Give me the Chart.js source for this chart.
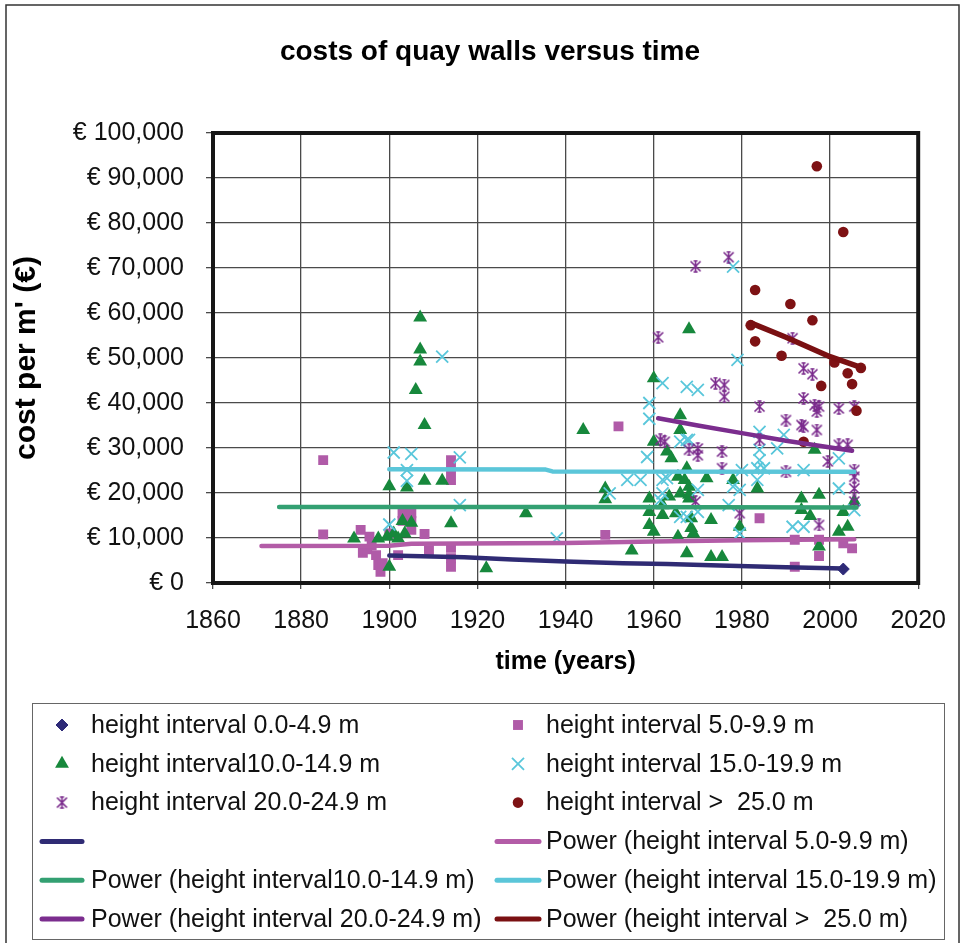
<!DOCTYPE html>
<html>
<head>
<meta charset="utf-8">
<title>costs of quay walls versus time</title>
<script src="https://cdn.jsdelivr.net/npm/chart.js@4.4.1/dist/chart.umd.min.js"></script>
<style>
  html, body { margin: 0; padding: 0; background: #fff; }
  canvas { display: block; }
</style>
</head>
<body>
<canvas id="chart-quay" width="963" height="943"></canvas>
<script>
// ── Data: [year of construction, cost per m' in €]
const h0 = [[2003, 3100]];
const h5 = [
  [1885, 27300], [1885, 10800], [1893.5, 11800], [1894, 6700], [1895, 7500], [1895.5, 10300],
  [1896, 8400], [1897, 6200], [1897.5, 4000], [1898, 2500], [1898.5, 4400], [1900, 11000],
  [1902, 6200], [1903, 15500], [1905, 15500], [1903, 13800], [1905, 13800], [1905, 11800],
  [1908, 10900], [1909, 7300], [1914, 27300], [1914, 25100], [1914, 22900], [1914, 7800],
  [1914, 5500], [1914, 3600], [1952, 34800], [1949, 10700], [1984, 14400], [1992, 9600],
  [1992, 3600], [1997.5, 9600], [1997.5, 6000], [2003, 8800], [2005, 7700]
];
const h10 = [
  [1892, 9900], [1897.5, 9900], [1899.5, 10300], [1901, 11000], [1902, 9900], [1903.5, 11000],
  [1900, 3600], [1903, 13800], [1905, 13400], [1914, 13300], [1900, 21500], [1904, 21200],
  [1908, 22700], [1912, 22700], [1907, 59000], [1907, 51900], [1907, 49200], [1906, 42900],
  [1908, 35100], [1922, 3300], [1931, 15500], [1944, 34000], [1949, 21000], [1949, 18600],
  [1955, 7200], [1960, 45500], [1968, 56400], [1960, 31400], [1963, 29200], [1964, 27700],
  [1966, 37300], [1966, 34000], [1965.5, 23600], [1966, 19900], [1965.5, 10300], [1967.5, 6600],
  [1967, 22900], [1967.5, 25500], [1968, 21400], [1968, 19600], [1968, 18800], [1968.5, 14400],
  [1968.5, 12200], [1969, 11000], [1959, 18800], [1959, 15800], [1959, 12900], [1960, 11400],
  [1962, 15100], [1962, 17300], [1965, 15500], [1963.5, 19200], [1972, 23300], [1973, 14000],
  [1973, 5800], [1975.5, 5800], [1978, 22900], [1979.5, 12500], [1983.5, 21000], [1993.5, 18800],
  [1993.5, 16200], [1995.5, 14900], [1996.5, 29600], [1997.5, 19600], [1997.5, 8100], [2002, 11400],
  [2003, 15800], [2004, 12500], [2005.5, 18100]
];
const h15 = [
  [1912, 50300], [1901, 29000], [1905, 28700], [1916, 27900], [1904, 25100], [1904, 22700],
  [1916, 17300], [1900, 13000], [1938, 9900], [1950, 19900], [1954, 22900], [1957, 22900],
  [1959, 40000], [1959, 36500], [1958.5, 28000], [1962, 44400], [1967.5, 43600], [1970, 42900],
  [1966, 31400], [1967.5, 31800], [1968, 31800], [1962, 22900], [1963, 23300], [1962, 19900],
  [1961.5, 18400], [1966, 14700], [1967.5, 14700], [1970, 15800], [1970, 20700], [1978, 21400],
  [1979.5, 20700], [1977, 17300], [1979.5, 11000], [1980, 25100], [1984, 33600], [1984, 29600],
  [1984, 27300], [1983.5, 25500], [1985, 25500], [1983.5, 22900], [1988, 29900], [1989.5, 32900],
  [1994, 25100], [1991.5, 12500], [1994, 12500], [2002, 21000], [2002, 27700], [2005.5, 16200],
  [1978, 70300], [1979, 49600]
];
const h20 = [
  [1969.5, 70400], [1977, 72400], [1961, 54600], [1991.5, 54400], [1994, 47700], [1996, 46400],
  [1974, 44400], [1976, 44000], [1976, 41400], [1984, 39200], [1994, 41000], [1996.5, 39500],
  [1997.5, 39200], [1997, 38100], [2002, 38800], [2005.5, 39200], [1990, 36200], [1993.5, 35100],
  [1994, 34700], [1997, 34000], [1961.5, 31800], [1962.5, 31400], [1968, 29600], [1970, 29900],
  [1970, 28400], [1975.5, 29200], [1975.5, 25500], [1984, 31800], [1990, 24700], [1999.5, 27000],
  [2002, 30700], [2004, 30700], [2005.5, 25100], [2005.5, 23600], [2005.5, 21000], [2005.5, 18100],
  [1979.5, 15500], [1969.5, 18100], [1997.5, 12900]
];
const h25 = [
  [1997, 92600], [2003, 78000], [1983, 65100], [1991, 62000], [1996, 58400], [1982, 57300],
  [1983, 53700], [1989, 50500], [2001, 49000], [2004, 46600], [2007, 47800], [1998, 43800],
  [2005, 44200], [2006, 38300], [1994, 31400]
];

// power trend lines
const h0Trend  = [[1900, 6100], [1917, 5700], [1928, 5200], [1940, 4800], [1953, 4400], [1963, 4200], [1975, 3900], [1990, 3500], [2003, 3200]];
const h5Trend  = [[1871, 8200], [1900, 8300], [1905, 8700], [1940, 8900], [1960, 9200], [1980, 9500], [2005.5, 9700]];
const h10Trend = [[1875, 16900], [1940, 16900], [2006, 16800]];
const h15Trend = [[1900, 25300], [1935.5, 25200], [1937, 24800], [2005.5, 24700]];
const h20Trend = [[1961, 36600], [1970, 35000], [1980, 33300], [1990, 31600], [2005, 29400]];
const h25Trend = [[1982, 57800], [1990, 54600], [2000, 50300], [2007, 47900]];

const xTicks = [1860, 1880, 1900, 1920, 1940, 1960, 1980, 2000, 2020];
const yTicks = [0, 10000, 20000, 30000, 40000, 50000, 60000, 70000, 80000, 90000, 100000];

const FONT = "'Liberation Sans', Arial, sans-serif";
const pts = arr => arr.map(([x, y]) => ({ x, y }));

// Excel-style asterisk marker (X with a capped vertical bar)
function asteriskMarker(color, size) {
  const c = document.createElement('canvas');
  c.width = c.height = size;
  const g = c.getContext('2d');
  g.strokeStyle = color;
  g.lineWidth = 1.6;
  const a = 1.5, b = size - 1.5, m = size / 2;
  g.beginPath();
  g.moveTo(a, a); g.lineTo(b, b);
  g.moveTo(b, a); g.lineTo(a, b);
  g.moveTo(m, a - 0.5); g.lineTo(m, b + 0.5);
  g.moveTo(m - 2, a - 0.5); g.lineTo(m + 2, a - 0.5);
  g.moveTo(m - 2, b + 0.5); g.lineTo(m + 2, b + 0.5);
  g.stroke();
  return c;
}

function markers(label, data, style, order) {
  return Object.assign({ type: 'scatter', label, data: pts(data), order, showLine: false }, style);
}
function trend(label, data, color, order, width = 4.5) {
  return {
    type: 'scatter', label, data: pts(data), order, showLine: true,
    borderColor: color, backgroundColor: color, borderWidth: width,
    pointRadius: 0, borderCapStyle: 'round', borderJoinStyle: 'round'
  };
}

const datasets = [
  markers('height interval 0.0-4.9 m', h0, { pointStyle: 'rectRot', pointRadius: 6, backgroundColor: '#2E2A78', borderColor: '#2E2A78', borderWidth: 1 }, 20),
  markers('height interval 5.0-9.9 m', h5, { pointStyle: 'rect', pointRadius: 7, backgroundColor: '#B05BA8', borderColor: '#B05BA8', borderWidth: 0 }, 19),
  markers('height interval10.0-14.9 m', h10, { pointStyle: 'triangle', pointRadius: 8, backgroundColor: '#17883C', borderColor: '#17883C', borderWidth: 0 }, 18),
  markers('height interval 15.0-19.9 m', h15, { pointStyle: 'crossRot', pointRadius: 8.5, backgroundColor: '#5AC7DB', borderColor: '#5AC7DB', borderWidth: 1.8 }, 17),
  markers('height interval 20.0-24.9 m', h20, { pointStyle: asteriskMarker('#7A2A8C', 13), pointRadius: 6.5, backgroundColor: '#7A2A8C', borderColor: '#7A2A8C', borderWidth: 0 }, 16),
  markers('height interval >  25.0 m', h25, { pointStyle: 'circle', pointRadius: 5.3, backgroundColor: '#7E1214', borderColor: '#7E1214', borderWidth: 0 }, 15),
  trend('', h0Trend, '#2F2B74', 10),
  trend('Power (height interval 5.0-9.9 m)', h5Trend, '#B35CA7', 9),
  trend('Power (height interval10.0-14.9 m)', h10Trend, '#33A072', 8),
  trend('Power (height interval 15.0-19.9 m)', h15Trend, '#5BC6D9', 7),
  trend('Power (height interval 20.0-24.9 m)', h20Trend, '#7B2D8E', 6),
  trend('Power (height interval >  25.0 m)', h25Trend, '#7A1012', 5, 5.5)
];

// thick black frame round the plot area
const plotFrame = {
  id: 'plotFrame',
  beforeDatasetsDraw(chart) {
    const { ctx, chartArea: a } = chart;
    ctx.save();
    ctx.strokeStyle = '#161616';
    ctx.lineWidth = 4;
    ctx.strokeRect(a.left, a.top, a.right - a.left, a.bottom - a.top);
    ctx.restore();
  }
};

// title, outer border and the two-column legend box
const decorations = {
  id: 'decorations',
  afterDraw(chart) {
    const ctx = chart.ctx;
    ctx.save();
    ctx.strokeStyle = '#333';
    ctx.lineWidth = 1.5;
    ctx.strokeRect(6, 5, 953, 950);

    ctx.fillStyle = '#000';
    ctx.font = `bold 28px ${FONT}`;
    ctx.textAlign = 'center';
    ctx.textBaseline = 'middle';
    ctx.fillText('costs of quay walls versus time', 490, 52);

    ctx.strokeStyle = '#666';
    ctx.lineWidth = 1;
    ctx.strokeRect(32.5, 703.5, 912, 236);

    const cols = [{ k0: 40, k1: 84, tx: 91 }, { k0: 495, k1: 541, tx: 546 }];
    ctx.font = `25px ${FONT}`;
    ctx.textAlign = 'left';
    chart.data.datasets.forEach((ds, i) => {
      const col = cols[i % 2];
      const y = 725 + Math.floor(i / 2) * 38.8;
      if (ds.showLine) {
        ctx.strokeStyle = ds.borderColor;
        ctx.lineWidth = 5;
        ctx.lineCap = 'round';
        ctx.beginPath();
        ctx.moveTo(col.k0 + 2, y);
        ctx.lineTo(col.k1 - 2, y);
        ctx.stroke();
      } else {
        ctx.fillStyle = ds.backgroundColor;
        ctx.strokeStyle = ds.borderColor;
        ctx.lineWidth = ds.borderWidth;
        Chart.helpers.drawPoint(ctx, {
          pointStyle: ds.pointStyle, radius: ds.pointRadius, rotation: 0, borderWidth: ds.borderWidth
        }, (col.k0 + col.k1) / 2, y);
      }
      ctx.fillStyle = '#111';
      ctx.fillText(ds.label, col.tx, y + 1);
    });
    ctx.restore();
  }
};

new Chart(document.getElementById('chart-quay'), {
  type: 'scatter',
  data: { datasets },
  options: {
    responsive: false,
    animation: false,
    layout: { padding: { left: 0, top: 133, right: 42, bottom: 260 } },
    plugins: { legend: { display: false }, tooltip: { enabled: false } },
    scales: {
      x: {
        type: 'linear', position: 'bottom', min: xTicks[0], max: xTicks[xTicks.length - 1],
        afterBuildTicks: s => { s.ticks = xTicks.map(v => ({ value: v })); },
        afterFit: s => { s.height = 100; },
        ticks: { callback: v => String(v), color: '#111', font: { family: FONT, size: 25 }, padding: 17 },
        grid: { color: '#4a4a4a', lineWidth: 1.3, tickLength: 6 },
        border: { display: false },
        title: { display: true, text: 'time (years)', color: '#000', font: { family: FONT, size: 25, weight: 'bold' }, padding: { top: 0, bottom: 6 } }
      },
      y: {
        type: 'linear', min: yTicks[0], max: yTicks[yTicks.length - 1],
        afterBuildTicks: s => { s.ticks = yTicks.map(v => ({ value: v })); },
        afterFit: s => { s.width = 213; },
        ticks: { callback: v => '€ ' + v.toLocaleString('en-US'), color: '#111', font: { family: FONT, size: 25 }, padding: 22 },
        grid: { color: '#4a4a4a', lineWidth: 1.3, tickLength: 7 },
        border: { display: false },
        title: { display: true, text: "cost per m' (€)", color: '#000', font: { family: FONT, size: 30, weight: 'bold' }, padding: { top: 9, bottom: 0 } }
      }
    }
  },
  plugins: [plotFrame, decorations]
});
</script>
</body>
</html>
